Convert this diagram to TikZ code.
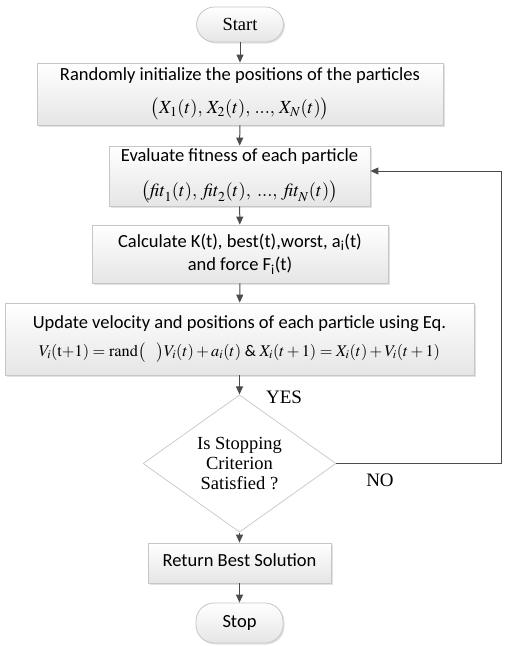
\documentclass[tikz,border=0pt]{standalone}
\usepackage{mathptmx}
\usepackage{fontspec}
\setmainfont{Liberation Serif}
\newfontfamily\sansf{Carlito}
\usetikzlibrary{shapes.geometric,arrows.meta,shadows}
\newcommand{\fs}[1]{\fontsize{#1}{#1}\selectfont}
\begin{document}
\begin{tikzpicture}[x=1pt,y=-1pt,
  procbox/.style={draw=gray!45, line width=0.8pt, top color=white, bottom color=gray!20,
    drop shadow={shadow xshift=1.5pt, shadow yshift=-1.5pt, fill=gray!45},
    align=center, inner sep=0pt, font=\sansf\fs{18.5}},
  termbox/.style={procbox, rounded corners=18pt},
  decbox/.style={shape=diamond, draw=gray!40, line width=0.8pt, fill=white, inner sep=0pt,
    align=center, font=\fontsize{18.5}{20}\selectfont},
  lbl/.style={font=\fs{19}, inner sep=0pt},
  arr/.style={draw=black!70, line width=1pt, -{Triangle[length=8pt,width=7pt]}}]
\useasboundingbox (0,0) rectangle (505,646);
\node[termbox, minimum width=87pt, minimum height=35pt, font=\fs{18.5}] (start) at (240,24.5) {Start};
\node[procbox, minimum width=406pt, minimum height=62pt] (b1) at (240,94)
  {Randomly initialize the positions of the particles\\[13pt]
   \fs{18.5}$\bigl(X_1(t),\,X_2(t),\,...,\,X_N(t)\bigr)$};
\node[procbox, minimum width=261pt, minimum height=60pt] (b2) at (239.5,176)
  {Evaluate fitness of each particle\\[15pt]
   \fs{18.5}$\bigl(\mathit{fit}_1(t),\;\mathit{fit}_2(t),\;...,\;\mathit{fit}_N(t)\bigr)$};
\node[procbox, minimum width=296pt, minimum height=58pt] (b3) at (240,254)
  {Calculate K(t), best(t),worst, a\textsubscript{i}(t)\\[5pt] and force F\textsubscript{i}(t)};
\node[procbox, minimum width=469pt, minimum height=72pt] (b4) at (239.5,339)
  {Update velocity and positions of each particle using Eq.\\[9pt]
   \fs{16.3}$V_i(\mathrm{t{+}1})=\mathrm{rand}\bigl(\ \ \ \bigr)V_i(t)+a_i(t)\mbox{ \& }X_i(t+1)=X_i(t)+V_i(t+1)$};
\node[decbox, minimum width=193pt, minimum height=117pt] (dec) at (239.5,463.5)
  {Is Stopping\\ Criterion\\ Satisfied ?};
\node[procbox, minimum width=183pt, minimum height=40pt] (b5) at (239.5,563)
  {\raisebox{6pt}{Return Best Solution}};
\node[termbox, minimum width=87pt, minimum height=40pt] (stop) at (239.5,623) {Stop};
\node[lbl] (yes) at (284,397) {YES};
\node[lbl] (no) at (380,480) {NO};
\coordinate (ret) at (501,171);
\draw[arr] (start) -- (b1);
\draw[arr] (b1) -- (b2);
\draw[arr] (b2) -- (b3);
\draw[arr] (b3) -- (b4);
\draw[arr] (b4) -- (dec);
\draw[arr] (dec) -- (b5);
\draw[arr] (b5) -- (stop);
\draw[arr] (dec.east) -| (ret) -- (b2.east |- ret);
\end{tikzpicture}
\end{document}
